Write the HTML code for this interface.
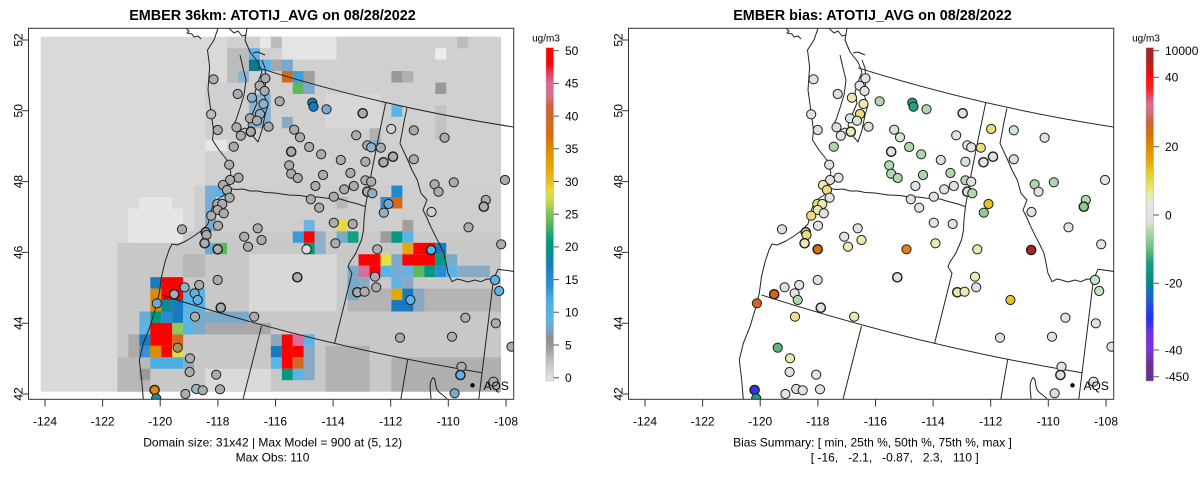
<!DOCTYPE html>
<html><head><meta charset="utf-8"><style>
html,body{margin:0;padding:0;background:#fff;}
svg{display:block;font-family:"Liberation Sans",Arial,sans-serif;}
.t{font-size:12px;fill:#000;}
.ttl{font-size:14.4px;font-weight:bold;fill:#000;}
</style></head><body>
<svg width="1200" height="479" viewBox="0 0 1200 479" xmlns="http://www.w3.org/2000/svg" xmlns:xlink="http://www.w3.org/1999/xlink">
<defs>
<clipPath id="cp"><rect x="28.5" y="28.3" width="485.2" height="371"/></clipPath>
<linearGradient id="g1" x1="0" y1="0" x2="0" y2="1">
<stop offset="0" stop-color="#ff0000"/><stop offset="0.048" stop-color="#ff0000"/><stop offset="0.068" stop-color="#ee2a45"/><stop offset="0.107" stop-color="#dc6a9a"/><stop offset="0.146" stop-color="#d47280"/><stop offset="0.176" stop-color="#d2603a"/><stop offset="0.225" stop-color="#d76a1e"/><stop offset="0.264" stop-color="#da6a08"/><stop offset="0.303" stop-color="#e08a00"/><stop offset="0.362" stop-color="#e6a800"/><stop offset="0.401" stop-color="#e8c020"/><stop offset="0.431" stop-color="#e6dc40"/><stop offset="0.46" stop-color="#c8d84a"/><stop offset="0.499" stop-color="#7cc45a"/><stop offset="0.539" stop-color="#4cb060"/><stop offset="0.568" stop-color="#10a07a"/><stop offset="0.597" stop-color="#00967e"/><stop offset="0.627" stop-color="#0a8aa0"/><stop offset="0.656" stop-color="#1a80c0"/><stop offset="0.715" stop-color="#2a90d4"/><stop offset="0.755" stop-color="#4aaee2"/><stop offset="0.813" stop-color="#5ab4e6"/><stop offset="0.833" stop-color="#6aaad4"/><stop offset="0.853" stop-color="#80a0b8"/><stop offset="0.872" stop-color="#8c8c8c"/><stop offset="0.892" stop-color="#999999"/><stop offset="0.912" stop-color="#a6a6a6"/><stop offset="0.931" stop-color="#b8b8b8"/><stop offset="0.951" stop-color="#c8c8c8"/><stop offset="0.97" stop-color="#d6d6d6"/><stop offset="1" stop-color="#e6e6e6"/>
</linearGradient>
<linearGradient id="g2" x1="0" y1="0" x2="0" y2="1">
<stop offset="0" stop-color="#a02828"/><stop offset="0.037" stop-color="#b02020"/><stop offset="0.067" stop-color="#d01818"/><stop offset="0.091" stop-color="#ff1010"/><stop offset="0.121" stop-color="#ff2020"/><stop offset="0.142" stop-color="#e8405a"/><stop offset="0.172" stop-color="#d8709a"/><stop offset="0.196" stop-color="#d07070"/><stop offset="0.223" stop-color="#d2603a"/><stop offset="0.262" stop-color="#d87000"/><stop offset="0.298" stop-color="#e08a00"/><stop offset="0.337" stop-color="#e6a800"/><stop offset="0.373" stop-color="#e8c828"/><stop offset="0.403" stop-color="#e8e050"/><stop offset="0.442" stop-color="#ece8b0"/><stop offset="0.472" stop-color="#e6e6e6"/><stop offset="0.511" stop-color="#e0e0e0"/><stop offset="0.532" stop-color="#c8e4c8"/><stop offset="0.562" stop-color="#a0d4a0"/><stop offset="0.601" stop-color="#70c080"/><stop offset="0.643" stop-color="#20a080"/><stop offset="0.697" stop-color="#009080"/><stop offset="0.727" stop-color="#1070b8"/><stop offset="0.772" stop-color="#2050e0"/><stop offset="0.811" stop-color="#2030f0"/><stop offset="0.856" stop-color="#7030e8"/><stop offset="0.907" stop-color="#8030d8"/><stop offset="0.952" stop-color="#6a3090"/><stop offset="1" stop-color="#6a3090"/>
</linearGradient>
<g id="lines" fill="none" stroke="#222" stroke-width="1" stroke-linejoin="round">
<path d="M218,28.3 L214,40 L207.5,50 L209.6,66.7 L208,90 L210.8,110 L213.5,130 L212.5,140 L219,150 L227,160 L230.8,172 L229,188 L224,195 L215,201 L211,211 L208,224 L201,231 L194,236 L186,241 L177,245 L172,244 L169,250 L165,262 L161.5,276.7 L159.3,293.3 L155,310 L150,326.7 L143.3,343.3 L139.3,360 L141.7,380 L143.3,399.3"/>
<path d="M229,188.3 L236,189.5 L243,189 L250,191 L258,191 L265,192.5 L275,193 L288.5,195 L300,195.5 L307.7,196.7 L318,197 L327,198.3 L340,199 L350,202 L358,204 L365.4,206.7"/>
<path d="M385.8,102.3 L378,140 L371,175 L367.5,195 L365.4,206.7 L364,220 L363.5,230 L361.5,240 L358,248 L355.8,253.3 L350,262 L348,266.7 L352,273.3 L334.6,343.3"/>
<path d="M406.9,108.3 L404,122 L402,133 L400,143.3 L404,152 L407.7,160 L412,170 L417.3,180 L421,193.3 L427,200 L423,210 L427,218 L430.8,226.7 L436.5,238.3 L440,245 L444,253.3 L446,263 L448,273.3 L452,281.7 L457,279 L461.5,280 L468,282 L475,280 L480.8,281.7 L487,279 L493.5,279.3"/>
<path d="M516,271.7 L498,269.3 L493.5,279.3 L478.8,399.3"/>
<path d="M258,67.8 Q381.7,106.8 515.4,127.3"/>
<path d="M161.5,295 Q321.75,346.75 482,372.7"/>
<path d="M261.5,326 L243,399.3"/>
<path d="M407.7,359.3 L400.8,399.3"/>
<path d="M431,399.3 C431,392 428,384 433,377.5 C437,379 434,388 439,392 C442,395 445,396 447,399.3"/>
<path d="M240,55 L243,68 L246,80 L244,95 L240,108 L236,120 L232,128 L238,131 L245,128 L250,131"/>
<path d="M247,28.3 L245,40 L250,52 L258,62 L262,72 L258,82 L255,92 L257,103 L252,115 L248,125 L252,135 L258,142 L262,130 L265,115 L268,105 L264,95 L266,80 L265,68 L262,60"/>
<path d="M229,28.3 L234,33 L238,31 L242,36 L246,35"/>
<path d="M186,28.3 L189,31 L187,33 L192,34 L194,37 L198,36 L201,39"/>
<path d="M253,53 L258,52 L265,55"/>
</g>
</defs>

<!-- ================= LEFT PANEL ================= -->
<text class="ttl" x="272.5" y="19.8" text-anchor="middle">EMBER 36km: ATOTIJ_AVG on 08/28/2022</text>
<g clip-path="url(#cp)">
<g transform="translate(40.7,36.7) scale(10.96,11.45)">
<rect x="0" y="0" width="42" height="31" fill="#d9d9d9"/>
<rect x="17" y="0" width="25" height="4" fill="#d0d0d0"/>
<rect x="15" y="4" width="27" height="9" fill="#d0d0d0"/>
<rect x="14" y="13" width="28" height="4" fill="#cecece"/>
<rect x="13" y="17" width="29" height="1" fill="#cacaca"/>
<rect x="7" y="18" width="35" height="13" fill="#c8c8c8"/>
<!-- light patches -->
<rect x="8" y="15" width="5" height="3" fill="#e6e6e6"/>
<rect x="9" y="14" width="3" height="1" fill="#e6e6e6"/>
<rect x="20" y="0" width="1" height="1" fill="#e6e6e6"/>
<rect x="22" y="0" width="5" height="2" fill="#e4e4e4"/>
<rect x="36" y="1" width="1" height="1" fill="#ececec"/>
<rect x="20" y="5" width="1" height="1" fill="#e6e6e6"/>
<rect x="15" y="9" width="2" height="1" fill="#e6e6e6"/>
<rect x="26" y="5" width="5" height="3" fill="#d8d8d8"/>
<rect x="19" y="19" width="8" height="5" fill="#d8d8d8"/>
<rect x="15" y="29" width="6" height="2" fill="#dadada"/>
<!-- dark patches north -->
<rect x="17" y="1" width="2" height="3" fill="#bcbcbc"/>
<rect x="21" y="0" width="1" height="1" fill="#bbbbbb"/>
<rect x="38" y="0" width="1" height="1" fill="#bbbbbb"/>
<rect x="21" y="2" width="1" height="1" fill="#a8a8a8"/>
<rect x="24" y="3" width="1" height="1" fill="#a0a0a0"/>
<rect x="32" y="3" width="1" height="1" fill="#999999"/>
<rect x="33" y="3" width="1" height="1" fill="#b0b0b0"/>
<rect x="36" y="4" width="1" height="1" fill="#999999"/>
<rect x="30" y="8" width="1" height="1" fill="#b0b0b0"/>
<rect x="36" y="6" width="1" height="3" fill="#c2c2c2"/>
<rect x="27" y="14" width="1" height="1" fill="#b8b8b8"/>
<rect x="31" y="17" width="1" height="1" fill="#9c9c9c"/>
<rect x="33" y="16" width="1" height="1" fill="#a0a0a0"/>
<!-- dark patches south -->
<rect x="13" y="19" width="2" height="2" fill="#b8b8b8"/>
<rect x="14" y="24" width="3" height="1" fill="#b0b0b0"/>
<rect x="13" y="25" width="8" height="1" fill="#a8a8a8"/>
<rect x="28" y="22" width="14" height="2" fill="#b4b4b4"/>
<rect x="26" y="27" width="4" height="4" fill="#b2b2b2"/>
<rect x="32" y="28" width="10" height="3" fill="#b0b0b0"/>
<rect x="7" y="28" width="3" height="3" fill="#b8b8b8"/>
<rect x="8" y="26" width="2" height="2" fill="#ababab"/>
<rect x="9" y="29" width="1" height="1" fill="#9a9a9a"/>
<!-- colored cells -->
<rect x="19" y="1" width="1" height="1" fill="#5ab4e6"/>
<rect x="19" y="2" width="1" height="1" fill="#0a7a8a"/>
<rect x="20" y="2" width="1" height="1" fill="#5ab4e6"/>
<rect x="22" y="2" width="1" height="1" fill="#7aaacc"/>
<rect x="22" y="3" width="1" height="1" fill="#d2691e"/>
<rect x="23" y="3" width="1" height="1" fill="#3aa0e0"/>
<rect x="23" y="4" width="1" height="1" fill="#5cb85c"/>
<rect x="24" y="4" width="1" height="1" fill="#7aaacc"/>
<rect x="18" y="3" width="1" height="1" fill="#8ab4d4"/>
<rect x="19" y="5" width="2" height="3" fill="#8ab4d4"/>
<rect x="22" y="7" width="1" height="1" fill="#8aa8c0"/>
<rect x="32" y="6" width="1" height="1" fill="#5ab4e6"/>
<rect x="30" y="9" width="1" height="1" fill="#8ab0cc"/>
<rect x="15" y="13" width="1" height="4" fill="#78acd4"/>
<rect x="16" y="13" width="1" height="1" fill="#5ab4e6"/>
<rect x="32" y="13" width="1" height="1" fill="#1f8ace"/>
<rect x="31" y="14" width="1" height="1" fill="#3a8ac8"/>
<rect x="32" y="14" width="1" height="1" fill="#d2691e"/>
<rect x="24" y="16" width="1" height="1" fill="#6fb4e0"/>
<rect x="27" y="16" width="1" height="1" fill="#e6d84a"/>
<rect x="27" y="17" width="1" height="1" fill="#7aaac8"/>
<rect x="28" y="17" width="1" height="1" fill="#10a080"/>
<rect x="23" y="17" width="1" height="1" fill="#3a9ad8"/>
<rect x="24" y="17" width="1" height="1" fill="#ff0000"/>
<rect x="25" y="17" width="1" height="2" fill="#8fb0c8"/>
<rect x="24" y="18" width="1" height="1" fill="#009a7a"/>
<rect x="32" y="17" width="1" height="1" fill="#009a80"/>
<rect x="33" y="17" width="1" height="1" fill="#5ab4e6"/>
<rect x="15" y="18" width="1" height="1" fill="#6aaad8"/>
<rect x="16" y="18" width="1" height="1" fill="#5cb85c"/>
<rect x="33" y="18" width="1" height="1" fill="#e6a800"/>
<rect x="34" y="18" width="2" height="1" fill="#ff0000"/>
<rect x="36" y="18" width="1" height="1" fill="#1a7abf"/>
<rect x="29" y="19" width="2" height="1" fill="#ff0000"/>
<rect x="31" y="19" width="1" height="1" fill="#e6e04a"/>
<rect x="32" y="19" width="1" height="1" fill="#7aaac8"/>
<rect x="33" y="19" width="3" height="1" fill="#ff0000"/>
<rect x="36" y="19" width="1" height="1" fill="#009a80"/>
<rect x="37" y="19" width="1" height="1" fill="#7aaac8"/>
<rect x="28" y="20" width="1" height="1" fill="#7aaac8"/>
<rect x="29" y="20" width="1" height="1" fill="#d4709a"/>
<rect x="30" y="20" width="1" height="1" fill="#ff0000"/>
<rect x="31" y="20" width="1" height="1" fill="#5ab4e6"/>
<rect x="32" y="20" width="1" height="1" fill="#7aaad0"/>
<rect x="33" y="20" width="1" height="1" fill="#6ab0e0"/>
<rect x="34" y="20" width="1" height="1" fill="#5cb85c"/>
<rect x="35" y="20" width="1" height="1" fill="#009a80"/>
<rect x="36" y="20" width="1" height="1" fill="#2a8ad0"/>
<rect x="37" y="20" width="1" height="1" fill="#5ab4e6"/>
<rect x="38" y="20" width="3" height="1" fill="#8aaac4"/>
<rect x="29" y="21" width="1" height="1" fill="#8aaac0"/>
<rect x="28" y="21" width="1" height="2" fill="#7aa8c8"/>
<rect x="32" y="21" width="1" height="1" fill="#5ab4e6"/>
<rect x="33" y="21" width="1" height="1" fill="#8aa8c0"/>
<rect x="32" y="22" width="1" height="1" fill="#e6a800"/>
<rect x="33" y="22" width="1" height="1" fill="#1a7abf"/>
<rect x="34" y="22" width="1" height="2" fill="#8aa8c0"/>
<rect x="32" y="23" width="2" height="1" fill="#1a7abf"/>
<rect x="10" y="21" width="1" height="1" fill="#1a7abf"/>
<rect x="11" y="21" width="2" height="2" fill="#ff0000"/>
<rect x="10" y="22" width="1" height="2" fill="#e08a00"/>
<rect x="13" y="22" width="2" height="2" fill="#5ab4e6"/>
<rect x="11" y="23" width="1" height="1" fill="#0a8a9a"/>
<rect x="12" y="23" width="1" height="1" fill="#1a7abf"/>
<rect x="10" y="24" width="1" height="1" fill="#009a7a"/>
<rect x="11" y="24" width="1" height="1" fill="#2a8ad0"/>
<rect x="12" y="24" width="1" height="1" fill="#1a7abf"/>
<rect x="13" y="24" width="1" height="1" fill="#5ab4e6"/>
<rect x="14" y="24" width="5" height="1" fill="#7aaac8"/>
<rect x="9" y="24" width="1" height="1" fill="#6aaad8"/>
<rect x="9" y="25" width="1" height="1" fill="#5ab4e6"/>
<rect x="10" y="25" width="2" height="2" fill="#ff0000"/>
<rect x="12" y="25" width="1" height="1" fill="#8cc85a"/>
<rect x="13" y="25" width="1" height="1" fill="#5ab4e6"/>
<rect x="14" y="25" width="1" height="1" fill="#7aaac8"/>
<rect x="9" y="26" width="1" height="1" fill="#1a7abf"/>
<rect x="12" y="26" width="1" height="1" fill="#d2691e"/>
<rect x="9" y="27" width="1" height="1" fill="#3a90d0"/>
<rect x="10" y="27" width="1" height="1" fill="#e08a00"/>
<rect x="11" y="27" width="1" height="1" fill="#ff0000"/>
<rect x="12" y="27" width="1" height="1" fill="#e6d84a"/>
<rect x="10" y="28" width="3" height="1" fill="#4aaee0"/>
<rect x="13" y="28" width="1" height="1" fill="#8aaac4"/>
<rect x="21" y="26" width="1" height="1" fill="#8aa8c0"/>
<rect x="21" y="27" width="1" height="1" fill="#1a7abf"/>
<rect x="21" y="28" width="1" height="1" fill="#5ab4e6"/>
<rect x="22" y="26" width="1" height="3" fill="#ff0000"/>
<rect x="23" y="26" width="1" height="1" fill="#d4709a"/>
<rect x="23" y="27" width="1" height="1" fill="#ff0000"/>
<rect x="23" y="28" width="1" height="1" fill="#d2691e"/>
<rect x="24" y="26" width="1" height="1" fill="#5ab4e6"/>
<rect x="24" y="27" width="1" height="3" fill="#8aaac4"/>
<rect x="22" y="29" width="1" height="1" fill="#009a7a"/>
<rect x="23" y="29" width="1" height="1" fill="#5ab4e6"/>
</g>
<use xlink:href="#lines" href="#lines"/>
<g stroke="#1e1e1e" stroke-width="1">
<circle cx="213.5" cy="79.3" r="4.6" fill="#acacac"/>
<circle cx="265.4" cy="78.3" r="4.6" fill="#acacac"/>
<circle cx="259.6" cy="85.7" r="4.6" fill="#acacac"/>
<circle cx="264.6" cy="91" r="4.6" fill="#acacac"/>
<circle cx="237.7" cy="94" r="4.6" fill="#acacac"/>
<circle cx="251.9" cy="97.7" r="4.6" fill="#90b0c8"/>
<circle cx="263.5" cy="104" r="4.6" fill="#90b0c8"/>
<circle cx="279.6" cy="101.3" r="4.6" fill="#acacac"/>
<circle cx="312.3" cy="102.7" r="4.6" fill="#1a7abf"/>
<circle cx="313.5" cy="106.7" r="4.6" fill="#1a7abf"/>
<circle cx="326.5" cy="109.3" r="4.6" fill="#7aaad0"/>
<circle cx="362.7" cy="113.3" r="4.6" fill="#acacac" stroke-width="1.4"/>
<circle cx="211.2" cy="114.3" r="4.6" fill="#bdbdbd"/>
<circle cx="260" cy="114" r="4.6" fill="#90b0c8"/>
<circle cx="250" cy="118.3" r="4.6" fill="#acacac"/>
<circle cx="257" cy="120.7" r="4.6" fill="#acacac"/>
<circle cx="236.5" cy="127.3" r="4.6" fill="#acacac"/>
<circle cx="268.5" cy="126.7" r="4.6" fill="#acacac"/>
<circle cx="217.7" cy="130" r="4.6" fill="#acacac"/>
<circle cx="250.8" cy="131.7" r="4.6" fill="#acacac" stroke-width="1.4"/>
<circle cx="240.8" cy="135.7" r="4.6" fill="#acacac"/>
<circle cx="294.2" cy="129.7" r="4.6" fill="#acacac"/>
<circle cx="300" cy="137.3" r="4.6" fill="#acacac"/>
<circle cx="391.2" cy="129" r="4.6" fill="#d0d0d0"/>
<circle cx="413.8" cy="130.3" r="4.6" fill="#acacac"/>
<circle cx="444.6" cy="137.7" r="4.6" fill="#acacac"/>
<circle cx="356.2" cy="135.3" r="4.6" fill="#acacac"/>
<circle cx="233.8" cy="146.7" r="4.6" fill="#acacac"/>
<circle cx="309.2" cy="147" r="4.6" fill="#acacac"/>
<circle cx="291.2" cy="151.7" r="4.6" fill="#acacac" stroke-width="1.4"/>
<circle cx="321.2" cy="154.3" r="4.6" fill="#acacac"/>
<circle cx="367.3" cy="145.3" r="4.6" fill="#acacac"/>
<circle cx="371.2" cy="147.3" r="4.6" fill="#90b0c8"/>
<circle cx="380.8" cy="147.7" r="4.6" fill="#acacac"/>
<circle cx="393" cy="156.7" r="4.6" fill="#acacac" stroke-width="1.4"/>
<circle cx="383.5" cy="162.3" r="4.6" fill="#acacac" stroke-width="1.4"/>
<circle cx="413.8" cy="159.3" r="4.6" fill="#acacac"/>
<circle cx="340.8" cy="160" r="4.6" fill="#acacac"/>
<circle cx="365.4" cy="161.7" r="4.6" fill="#acacac"/>
<circle cx="229.2" cy="164.7" r="4.6" fill="#acacac"/>
<circle cx="289.2" cy="165.3" r="4.6" fill="#acacac"/>
<circle cx="291.2" cy="173.7" r="4.6" fill="#acacac"/>
<circle cx="297.7" cy="178" r="4.6" fill="#acacac"/>
<circle cx="323" cy="175" r="4.6" fill="#acacac"/>
<circle cx="350.4" cy="173" r="4.6" fill="#acacac"/>
<circle cx="238.5" cy="177.7" r="4.6" fill="#acacac"/>
<circle cx="230" cy="180" r="4.6" fill="#acacac"/>
<circle cx="365.4" cy="180.3" r="4.6" fill="#acacac"/>
<circle cx="371.2" cy="181.7" r="4.6" fill="#acacac"/>
<circle cx="315.4" cy="186" r="4.6" fill="#acacac"/>
<circle cx="344.2" cy="189.3" r="4.6" fill="#acacac"/>
<circle cx="353.8" cy="186" r="4.6" fill="#acacac"/>
<circle cx="223" cy="185" r="4.6" fill="#acacac"/>
<circle cx="227" cy="190" r="4.6" fill="#acacac"/>
<circle cx="367.3" cy="191.7" r="4.6" fill="#acacac" stroke-width="1.4"/>
<circle cx="372.3" cy="193.3" r="4.6" fill="#90b0c8"/>
<circle cx="434.6" cy="184.3" r="4.6" fill="#acacac"/>
<circle cx="453.8" cy="182.3" r="4.6" fill="#acacac"/>
<circle cx="438.5" cy="191.7" r="4.6" fill="#acacac"/>
<circle cx="505" cy="180" r="4.6" fill="#acacac"/>
<circle cx="229.6" cy="197.7" r="4.6" fill="#acacac"/>
<circle cx="310.8" cy="199.3" r="4.6" fill="#acacac"/>
<circle cx="333.8" cy="196.7" r="4.6" fill="#acacac"/>
<circle cx="388.5" cy="204" r="4.6" fill="#6fa8d8"/>
<circle cx="485.8" cy="200" r="4.6" fill="#acacac"/>
<circle cx="483.8" cy="206.7" r="4.6" fill="#acacac" stroke-width="1.4"/>
<circle cx="217.3" cy="204" r="4.6" fill="#acacac"/>
<circle cx="222.3" cy="204" r="4.6" fill="#acacac"/>
<circle cx="217.7" cy="210" r="4.6" fill="#acacac"/>
<circle cx="223.8" cy="213.3" r="4.6" fill="#acacac"/>
<circle cx="211.2" cy="215.7" r="4.6" fill="#acacac"/>
<circle cx="319.2" cy="207.7" r="4.6" fill="#acacac"/>
<circle cx="383.8" cy="212.7" r="4.6" fill="#90b0c8"/>
<circle cx="431.5" cy="212" r="4.6" fill="#d0d0d0"/>
<circle cx="218" cy="225.7" r="4.6" fill="#acacac"/>
<circle cx="182" cy="229.3" r="4.6" fill="#acacac"/>
<circle cx="257.7" cy="228.3" r="4.6" fill="#acacac"/>
<circle cx="333.8" cy="222.7" r="4.6" fill="#acacac"/>
<circle cx="352.7" cy="224" r="4.6" fill="#acacac"/>
<circle cx="468.5" cy="227.3" r="4.6" fill="#acacac"/>
<circle cx="205.8" cy="232.3" r="4.6" fill="#acacac" stroke-width="1.4"/>
<circle cx="206.5" cy="235" r="4.6" fill="#acacac"/>
<circle cx="244.2" cy="236.7" r="4.6" fill="#acacac"/>
<circle cx="261.5" cy="240" r="4.6" fill="#acacac"/>
<circle cx="204.6" cy="243.3" r="4.6" fill="#acacac" stroke-width="1.4"/>
<circle cx="217.7" cy="249.3" r="4.6" fill="#acacac" stroke-width="1.4"/>
<circle cx="248" cy="246.7" r="4.6" fill="#acacac"/>
<circle cx="306.5" cy="249.3" r="4.6" fill="#dedede"/>
<circle cx="335.4" cy="243.3" r="4.6" fill="#acacac"/>
<circle cx="377.3" cy="249.3" r="4.6" fill="#acacac"/>
<circle cx="431.2" cy="250" r="4.6" fill="#5ab4e6" stroke-width="1.4"/>
<circle cx="501.2" cy="244.3" r="4.6" fill="#acacac"/>
<circle cx="297.3" cy="277.3" r="4.6" fill="#acacac" stroke-width="1.4"/>
<circle cx="375" cy="276.7" r="4.6" fill="#acacac"/>
<circle cx="376.2" cy="287.3" r="4.6" fill="#acacac"/>
<circle cx="357.3" cy="292.3" r="4.6" fill="#acacac" stroke-width="1.4"/>
<circle cx="364.6" cy="291.7" r="4.6" fill="#acacac"/>
<circle cx="410.4" cy="300" r="4.6" fill="#5ab4e6"/>
<circle cx="495" cy="280" r="4.6" fill="#5ab4e6"/>
<circle cx="499.2" cy="291" r="4.6" fill="#5ab4e6"/>
<circle cx="184.6" cy="287.3" r="4.6" fill="#90b0c8"/>
<circle cx="199.2" cy="285" r="4.6" fill="#acacac"/>
<circle cx="217.7" cy="280" r="4.6" fill="#acacac"/>
<circle cx="174.2" cy="294.3" r="4.6" fill="#acacac" stroke-width="1.4"/>
<circle cx="194.6" cy="293.3" r="4.6" fill="#6fa8d8"/>
<circle cx="197.7" cy="300" r="4.6" fill="#5ab4e6"/>
<circle cx="156.9" cy="303.3" r="4.6" fill="#6fa8d8"/>
<circle cx="220.8" cy="307.7" r="4.6" fill="#acacac" stroke-width="1.4"/>
<circle cx="195" cy="316.7" r="4.6" fill="#acacac"/>
<circle cx="254.2" cy="316.7" r="4.6" fill="#acacac"/>
<circle cx="465.4" cy="317.7" r="4.6" fill="#acacac"/>
<circle cx="495.8" cy="323.3" r="4.6" fill="#acacac"/>
<circle cx="400" cy="337.7" r="4.6" fill="#acacac"/>
<circle cx="452" cy="336.7" r="4.6" fill="#acacac"/>
<circle cx="511.5" cy="346.7" r="4.6" fill="#acacac"/>
<circle cx="177.7" cy="347.7" r="4.6" fill="#a89060"/>
<circle cx="190" cy="358.3" r="4.6" fill="#acacac"/>
<circle cx="189.6" cy="372" r="4.6" fill="#acacac"/>
<circle cx="216.2" cy="374.7" r="4.6" fill="#acacac"/>
<circle cx="154.6" cy="390" r="4.6" fill="#e08a00" stroke-width="1.4"/>
<circle cx="156.2" cy="398.3" r="4.6" fill="#1a8aa0"/>
<circle cx="185.4" cy="394" r="4.6" fill="#acacac"/>
<circle cx="196.2" cy="389" r="4.6" fill="#9ab8cc"/>
<circle cx="202.7" cy="390.3" r="4.6" fill="#acacac"/>
<circle cx="220" cy="389.3" r="4.6" fill="#acacac"/>
<circle cx="461.5" cy="366.7" r="4.6" fill="#acacac"/>
<circle cx="460.4" cy="375" r="4.6" fill="#5ab4e6" stroke-width="1.4"/>
<circle cx="454.6" cy="393.3" r="4.6" fill="#7aa8c8"/>
<circle cx="493.5" cy="381.7" r="4.6" fill="#acacac"/>
</g>
<circle cx="472.5" cy="385.3" r="2.2" fill="#000"/>
<text class="t" x="483.5" y="389.8">AQS</text>
</g>
<rect x="28.5" y="28.3" width="485.2" height="371" fill="none" stroke="#333" stroke-width="1"/>
<g stroke="#333" stroke-width="1">
<path d="M21.5,40H28.5M21.5,110.8H28.5M21.5,181.6H28.5M21.5,252.4H28.5M21.5,323.2H28.5M21.5,394H28.5"/>
<path d="M45,399.3V406.5M102.6,399.3V406.5M160.2,399.3V406.5M217.9,399.3V406.5M275.5,399.3V406.5M333.1,399.3V406.5M390.7,399.3V406.5M448.3,399.3V406.5M506,399.3V406.5"/>
</g>
<g class="t" text-anchor="middle">
<text transform="translate(22.5,40) rotate(-90)">52</text>
<text transform="translate(22.5,110.8) rotate(-90)">50</text>
<text transform="translate(22.5,181.6) rotate(-90)">48</text>
<text transform="translate(22.5,252.4) rotate(-90)">46</text>
<text transform="translate(22.5,323.2) rotate(-90)">44</text>
<text transform="translate(22.5,394) rotate(-90)">42</text>
<text x="45" y="425.5">-124</text>
<text x="102.6" y="425.5">-122</text>
<text x="160.2" y="425.5">-120</text>
<text x="217.9" y="425.5">-118</text>
<text x="275.5" y="425.5">-116</text>
<text x="333.1" y="425.5">-114</text>
<text x="390.7" y="425.5">-112</text>
<text x="448.3" y="425.5">-110</text>
<text x="506" y="425.5">-108</text>
<text x="272.7" y="446.5">Domain size: 31x42 | Max Model = 900 at (5, 12)</text>
<text x="272.5" y="461.5">Max Obs: 110</text>
</g>
<!-- left colorbar -->
<text x="546" y="41.5" text-anchor="middle" style="font-size:10px">ug/m3</text>
<rect x="546" y="47.7" width="7.5" height="333.3" fill="url(#g1)" stroke="#aaa" stroke-width="0.5"/>
<g stroke="#555" stroke-width="1">
<path d="M553.5,377.7H559M553.5,345H559M553.5,312.3H559M553.5,279.6H559M553.5,246.9H559M553.5,214.2H559M553.5,181.5H559M553.5,148.8H559M553.5,116.1H559M553.5,83.4H559M553.5,50.7H559"/>
</g>
<g class="t">
<text x="565" y="382">0</text>
<text x="565" y="349.3">5</text>
<text x="565" y="316.6">10</text>
<text x="565" y="283.9">15</text>
<text x="565" y="251.2">20</text>
<text x="565" y="218.5">25</text>
<text x="565" y="185.8">30</text>
<text x="565" y="153.1">35</text>
<text x="565" y="120.4">40</text>
<text x="565" y="87.7">45</text>
<text x="565" y="55">50</text>
</g>

<!-- ================= RIGHT PANEL ================= -->
<text class="ttl" x="872.5" y="19.8" text-anchor="middle">EMBER bias: ATOTIJ_AVG on 08/28/2022</text>
<g transform="translate(600,0)">
<g clip-path="url(#cp)">
<use xlink:href="#lines" href="#lines"/>
<g stroke="#1e1e1e" stroke-width="1">
<circle cx="213.5" cy="79.3" r="4.6" fill="#e2e2e2"/>
<circle cx="265.4" cy="78.3" r="4.6" fill="#e2e2e2"/>
<circle cx="259.6" cy="85.7" r="4.6" fill="#e2e2e2"/>
<circle cx="264.6" cy="91" r="4.6" fill="#e2e2e2"/>
<circle cx="237.7" cy="94" r="4.6" fill="#d2e6d2"/>
<circle cx="251.9" cy="97.7" r="4.6" fill="#ede7b2"/>
<circle cx="263.5" cy="104" r="4.6" fill="#ede7b2"/>
<circle cx="279.6" cy="101.3" r="4.6" fill="#acd9ac"/>
<circle cx="312.3" cy="102.7" r="4.6" fill="#2aa07a"/>
<circle cx="313.5" cy="106.7" r="4.6" fill="#2aa07a"/>
<circle cx="326.5" cy="109.3" r="4.6" fill="#acd9ac"/>
<circle cx="362.7" cy="113.3" r="4.6" fill="#e2e2e2" stroke-width="1.4"/>
<circle cx="211.2" cy="114.3" r="4.6" fill="#e2e2e2"/>
<circle cx="260" cy="114" r="4.6" fill="#ecdc7c"/>
<circle cx="250" cy="118.3" r="4.6" fill="#e2e2e2"/>
<circle cx="257" cy="120.7" r="4.6" fill="#d2e6d2"/>
<circle cx="236.5" cy="127.3" r="4.6" fill="#d2e6d2"/>
<circle cx="268.5" cy="126.7" r="4.6" fill="#d2e6d2"/>
<circle cx="217.7" cy="130" r="4.6" fill="#d2e6d2"/>
<circle cx="250.8" cy="131.7" r="4.6" fill="#ede7b2" stroke-width="1.4"/>
<circle cx="240.8" cy="135.7" r="4.6" fill="#e2e2e2"/>
<circle cx="294.2" cy="129.7" r="4.6" fill="#d2e6d2"/>
<circle cx="300" cy="137.3" r="4.6" fill="#d2e6d2"/>
<circle cx="391.2" cy="129" r="4.6" fill="#ecdc7c"/>
<circle cx="413.8" cy="130.3" r="4.6" fill="#d2e6d2"/>
<circle cx="444.6" cy="137.7" r="4.6" fill="#e2e2e2"/>
<circle cx="356.2" cy="135.3" r="4.6" fill="#e2e2e2"/>
<circle cx="233.8" cy="146.7" r="4.6" fill="#acd9ac"/>
<circle cx="309.2" cy="147" r="4.6" fill="#acd9ac"/>
<circle cx="291.2" cy="151.7" r="4.6" fill="#e2e2e2" stroke-width="1.4"/>
<circle cx="321.2" cy="154.3" r="4.6" fill="#acd9ac"/>
<circle cx="367.3" cy="145.3" r="4.6" fill="#e2e2e2"/>
<circle cx="371.2" cy="147.3" r="4.6" fill="#e2e2e2"/>
<circle cx="380.8" cy="147.7" r="4.6" fill="#ecdc7c"/>
<circle cx="393" cy="156.7" r="4.6" fill="#e2e2e2" stroke-width="1.4"/>
<circle cx="383.5" cy="162.3" r="4.6" fill="#e2e2e2" stroke-width="1.4"/>
<circle cx="413.8" cy="159.3" r="4.6" fill="#d2e6d2"/>
<circle cx="340.8" cy="160" r="4.6" fill="#d2e6d2"/>
<circle cx="365.4" cy="161.7" r="4.6" fill="#d2e6d2"/>
<circle cx="229.2" cy="164.7" r="4.6" fill="#e2e2e2"/>
<circle cx="289.2" cy="165.3" r="4.6" fill="#acd9ac"/>
<circle cx="291.2" cy="173.7" r="4.6" fill="#acd9ac"/>
<circle cx="297.7" cy="178" r="4.6" fill="#acd9ac"/>
<circle cx="323" cy="175" r="4.6" fill="#acd9ac"/>
<circle cx="350.4" cy="173" r="4.6" fill="#acd9ac"/>
<circle cx="238.5" cy="177.7" r="4.6" fill="#e2e2e2"/>
<circle cx="230" cy="180" r="4.6" fill="#e2e2e2"/>
<circle cx="365.4" cy="180.3" r="4.6" fill="#acd9ac"/>
<circle cx="371.2" cy="181.7" r="4.6" fill="#e2e2e2"/>
<circle cx="315.4" cy="186" r="4.6" fill="#e2e2e2"/>
<circle cx="344.2" cy="189.3" r="4.6" fill="#e2e2e2"/>
<circle cx="353.8" cy="186" r="4.6" fill="#e2e2e2"/>
<circle cx="223" cy="185" r="4.6" fill="#ede7b2"/>
<circle cx="227" cy="190" r="4.6" fill="#ecdc7c"/>
<circle cx="367.3" cy="191.7" r="4.6" fill="#e2e2e2" stroke-width="1.4"/>
<circle cx="372.3" cy="193.3" r="4.6" fill="#acd9ac"/>
<circle cx="434.6" cy="184.3" r="4.6" fill="#acd9ac"/>
<circle cx="453.8" cy="182.3" r="4.6" fill="#acd9ac"/>
<circle cx="438.5" cy="191.7" r="4.6" fill="#e2e2e2"/>
<circle cx="505" cy="180" r="4.6" fill="#e2e2e2"/>
<circle cx="229.6" cy="197.7" r="4.6" fill="#e2e2e2"/>
<circle cx="310.8" cy="199.3" r="4.6" fill="#e2e2e2"/>
<circle cx="333.8" cy="196.7" r="4.6" fill="#e2e2e2"/>
<circle cx="388.5" cy="204" r="4.6" fill="#e8c02c"/>
<circle cx="485.8" cy="200" r="4.6" fill="#acd9ac"/>
<circle cx="483.8" cy="206.7" r="4.6" fill="#8ccc8c" stroke-width="1.4"/>
<circle cx="217.3" cy="204" r="4.6" fill="#ecdc7c"/>
<circle cx="222.3" cy="204" r="4.6" fill="#ede7b2"/>
<circle cx="217.7" cy="210" r="4.6" fill="#ede7b2"/>
<circle cx="223.8" cy="213.3" r="4.6" fill="#e2e2e2"/>
<circle cx="211.2" cy="215.7" r="4.6" fill="#ecdc7c"/>
<circle cx="319.2" cy="207.7" r="4.6" fill="#e2e2e2"/>
<circle cx="383.8" cy="212.7" r="4.6" fill="#8ccc8c"/>
<circle cx="431.5" cy="212" r="4.6" fill="#e2e2e2"/>
<circle cx="218" cy="225.7" r="4.6" fill="#e2e2e2"/>
<circle cx="182" cy="229.3" r="4.6" fill="#d2e6d2"/>
<circle cx="257.7" cy="228.3" r="4.6" fill="#e2e2e2"/>
<circle cx="333.8" cy="222.7" r="4.6" fill="#e2e2e2"/>
<circle cx="352.7" cy="224" r="4.6" fill="#e2e2e2"/>
<circle cx="468.5" cy="227.3" r="4.6" fill="#e2e2e2"/>
<circle cx="205.8" cy="232.3" r="4.6" fill="#ecdc7c" stroke-width="1.4"/>
<circle cx="206.5" cy="235" r="4.6" fill="#ecdc7c"/>
<circle cx="244.2" cy="236.7" r="4.6" fill="#e2e2e2"/>
<circle cx="261.5" cy="240" r="4.6" fill="#ede7b2"/>
<circle cx="204.6" cy="243.3" r="4.6" fill="#ede7b2" stroke-width="1.4"/>
<circle cx="217.7" cy="249.3" r="4.6" fill="#d87010" stroke-width="1.4"/>
<circle cx="248" cy="246.7" r="4.6" fill="#ede7b2"/>
<circle cx="306.5" cy="249.3" r="4.6" fill="#e08014"/>
<circle cx="335.4" cy="243.3" r="4.6" fill="#ede7b2"/>
<circle cx="377.3" cy="249.3" r="4.6" fill="#ede7b2"/>
<circle cx="431.2" cy="250" r="4.6" fill="#b22222" stroke-width="1.4"/>
<circle cx="501.2" cy="244.3" r="4.6" fill="#e2e2e2"/>
<circle cx="297.3" cy="277.3" r="4.6" fill="#e2e2e2" stroke-width="1.4"/>
<circle cx="375" cy="276.7" r="4.6" fill="#ede7b2"/>
<circle cx="376.2" cy="287.3" r="4.6" fill="#e2e2e2"/>
<circle cx="357.3" cy="292.3" r="4.6" fill="#ede7b2" stroke-width="1.4"/>
<circle cx="364.6" cy="291.7" r="4.6" fill="#ede7b2"/>
<circle cx="410.4" cy="300" r="4.6" fill="#e8c02c"/>
<circle cx="495" cy="280" r="4.6" fill="#c4e2c4"/>
<circle cx="499.2" cy="291" r="4.6" fill="#c4e2c4"/>
<circle cx="184.6" cy="287.3" r="4.6" fill="#d2e6d2"/>
<circle cx="199.2" cy="285" r="4.6" fill="#e2e2e2"/>
<circle cx="217.7" cy="280" r="4.6" fill="#e2e2e2"/>
<circle cx="174.2" cy="294.3" r="4.6" fill="#d8641c" stroke-width="1.4"/>
<circle cx="194.6" cy="293.3" r="4.6" fill="#e2e2e2"/>
<circle cx="197.7" cy="300" r="4.6" fill="#acd9ac"/>
<circle cx="156.9" cy="303.3" r="4.6" fill="#d8641c"/>
<circle cx="220.8" cy="307.7" r="4.6" fill="#e2e2e2" stroke-width="1.4"/>
<circle cx="195" cy="316.7" r="4.6" fill="#ece090"/>
<circle cx="254.2" cy="316.7" r="4.6" fill="#ede7b2"/>
<circle cx="465.4" cy="317.7" r="4.6" fill="#e2e2e2"/>
<circle cx="495.8" cy="323.3" r="4.6" fill="#e2e2e2"/>
<circle cx="400" cy="337.7" r="4.6" fill="#e2e2e2"/>
<circle cx="452" cy="336.7" r="4.6" fill="#e2e2e2"/>
<circle cx="511.5" cy="346.7" r="4.6" fill="#e2e2e2"/>
<circle cx="177.7" cy="347.7" r="4.6" fill="#5cb87a"/>
<circle cx="190" cy="358.3" r="4.6" fill="#ede7b2"/>
<circle cx="189.6" cy="372" r="4.6" fill="#e2e2e2"/>
<circle cx="216.2" cy="374.7" r="4.6" fill="#e2e2e2"/>
<circle cx="154.6" cy="390" r="4.6" fill="#3434ee" stroke-width="1.4"/>
<circle cx="156.2" cy="398.3" r="4.6" fill="#1aa07c"/>
<circle cx="185.4" cy="394" r="4.6" fill="#e2e2e2"/>
<circle cx="196.2" cy="389" r="4.6" fill="#d2e6d2"/>
<circle cx="202.7" cy="390.3" r="4.6" fill="#e2e2e2"/>
<circle cx="220" cy="389.3" r="4.6" fill="#e2e2e2"/>
<circle cx="461.5" cy="366.7" r="4.6" fill="#e2e2e2"/>
<circle cx="460.4" cy="375" r="4.6" fill="#d2e6d2" stroke-width="1.4"/>
<circle cx="454.6" cy="393.3" r="4.6" fill="#d2e6d2"/>
<circle cx="493.5" cy="381.7" r="4.6" fill="#e2e2e2"/>
</g>
<circle cx="472.5" cy="385.3" r="2.2" fill="#000"/>
<text class="t" x="483.5" y="389.8">AQS</text>
</g>
<rect x="28.5" y="28.3" width="485.2" height="371" fill="none" stroke="#333" stroke-width="1"/>
<g stroke="#333" stroke-width="1">
<path d="M21.5,40H28.5M21.5,110.8H28.5M21.5,181.6H28.5M21.5,252.4H28.5M21.5,323.2H28.5M21.5,394H28.5"/>
<path d="M45,399.3V406.5M102.6,399.3V406.5M160.2,399.3V406.5M217.9,399.3V406.5M275.5,399.3V406.5M333.1,399.3V406.5M390.7,399.3V406.5M448.3,399.3V406.5M506,399.3V406.5"/>
</g>
<g class="t" text-anchor="middle">
<text transform="translate(22.5,40) rotate(-90)">52</text>
<text transform="translate(22.5,110.8) rotate(-90)">50</text>
<text transform="translate(22.5,181.6) rotate(-90)">48</text>
<text transform="translate(22.5,252.4) rotate(-90)">46</text>
<text transform="translate(22.5,323.2) rotate(-90)">44</text>
<text transform="translate(22.5,394) rotate(-90)">42</text>
<text x="45" y="425.5">-124</text>
<text x="102.6" y="425.5">-122</text>
<text x="160.2" y="425.5">-120</text>
<text x="217.9" y="425.5">-118</text>
<text x="275.5" y="425.5">-116</text>
<text x="333.1" y="425.5">-114</text>
<text x="390.7" y="425.5">-112</text>
<text x="448.3" y="425.5">-110</text>
<text x="506" y="425.5">-108</text>
<text x="272.5" y="446.5">Bias Summary: [ min, 25th %, 50th %, 75th %, max ]</text>
</g>
<text class="t" x="210.8" y="461.5" xml:space="preserve" style="white-space:pre">[ -16,   -2.1,   -0.87,   2.3,   110 ]</text>
<!-- right colorbar -->
<text x="546" y="41.5" text-anchor="middle" style="font-size:10px">ug/m3</text>
<rect x="546" y="47.7" width="7.5" height="333.3" fill="url(#g2)" stroke="#aaa" stroke-width="0.5"/>
<g stroke="#555" stroke-width="1">
<path d="M553.5,50.7H559M553.5,77.3H559M553.5,146.7H559M553.5,215H559M553.5,283.3H559M553.5,350H559M553.5,376.7H559"/>
</g>
<g class="t">
<text x="565" y="55">10000</text>
<text x="565" y="81.6">40</text>
<text x="565" y="151">20</text>
<text x="565" y="219.3">0</text>
<text x="565" y="287.6">-20</text>
<text x="565" y="354.3">-40</text>
<text x="565" y="381">-450</text>
</g>
</g>
</svg>
</body></html>
